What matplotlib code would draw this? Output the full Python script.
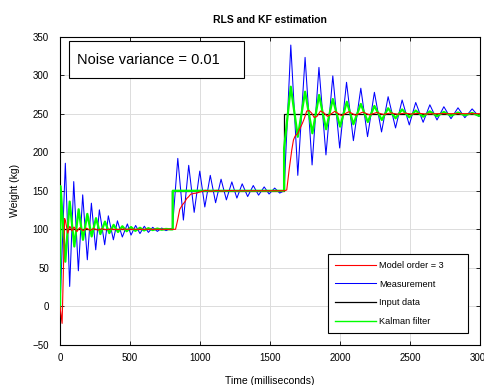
import matplotlib
matplotlib.use("Agg")
import matplotlib.pyplot as plt
from matplotlib.patches import Rectangle

plt.rcParams['font.family'] = ['Liberation Sans', 'DejaVu Sans']

# ---- data ----
input_t = [0, 800, 1600, 3000]
input_v = [100, 150, 250, 250]

meas_t = [0, 38, 69, 98, 131, 162, 195, 224, 255, 281, 319, 345, 381, 410, 445, 481, 507,
          540, 571, 602, 631, 662, 695, 726, 757, 788, 802,
          841, 881, 919, 958, 998, 1034, 1073, 1111, 1150, 1188, 1227, 1263, 1301, 1340,
          1380, 1418, 1458, 1493, 1533, 1569, 1600,
          1648, 1698, 1750, 1800, 1849, 1899, 1948, 1997, 2046, 2095, 2148, 2196, 2245,
          2296, 2343, 2396, 2443, 2494, 2540, 2593, 2641, 2692, 2741, 2792, 2842, 2891,
          2943, 2991, 3000]
meas_v = [0, 185.7, 25.9, 161.9, 46.2, 144.7, 60.5, 133.9, 73.4, 125.3, 80, 117.5, 86.4,
          111, 90, 107, 92.5, 105, 94.5, 104, 96, 102.6, 97.3, 101.7, 98.3, 101, 100,
          192, 112, 183, 122, 175.5, 129, 170, 134.5, 165, 138.2, 161.5, 140.5, 159, 142.5,
          156.8, 144.3, 155, 145.8, 153.5, 147, 150,
          339, 170, 323, 183.5, 310, 196.5, 299, 205.5, 290.7, 215, 283, 220.2, 277.7,
          226.3, 272, 231.5, 267.7, 235.4, 264.5, 238.8, 261.5, 241.8, 259, 243.5, 257.6,
          244.8, 256.2, 246.3, 247.5]

kf_t = [0, 4, 38, 69, 102, 133, 164, 195, 226, 257, 288, 321, 352, 383, 414, 445, 476,
        507, 538, 571, 600, 631, 662, 695, 726, 757, 790, 805, 805, 1600, 1600,
        1648, 1698, 1750, 1802, 1850, 1900, 1948, 2000, 2048, 2095, 2148, 2198, 2245,
        2298, 2343, 2396, 2443, 2494, 2540, 2593, 2641, 2692, 2741, 2792, 2842, 2891,
        2943, 2991, 3000]
kf_v = [-3, 156, 58, 136, 77.7, 126, 86.4, 120, 90.7, 114.5, 93.8, 110, 95.1, 105.8, 96.5,
        104, 97.5, 103, 98, 102, 98.5, 101.5, 99, 101, 99.5, 100.5, 100, 100, 150, 150, 205,
        285, 220, 278.5, 224.6, 274.2, 229.8, 269, 233.2, 265.5, 236.3, 262.6, 239.2, 260,
        241.8, 257, 244, 255.5, 245.3, 254, 246.1, 253, 246.8, 252.2, 247.4, 251.5, 247.9,
        251, 247.2, 248]

rls_t = [0, 15, 33, 40, 55, 70, 85, 100, 120, 140, 165, 190, 215, 240, 270, 300, 330, 360,
         400, 450, 500, 800, 825, 840, 855, 875, 893, 905, 917, 933, 955, 975, 1000, 1040,
         1080, 1120, 1160, 1200, 1250, 1600, 1619, 1636, 1655, 1667, 1679, 1698, 1714,
         1731, 1745, 1762, 1779, 1798, 1815, 1835, 1860, 1885, 1910, 1962, 2010, 2062,
         2110, 2162, 2210, 2262, 2310, 2362, 2410, 2462, 2510, 2560, 2610, 2700, 3000]
rls_v = [0, -22, 114, 110, 95, 104, 98, 103, 97, 102, 98, 101.5, 98.5, 101, 99, 100.7,
         99.4, 100.4, 99.7, 100.2, 100, 100, 100, 112, 126, 132, 136, 140, 142, 145.5,
         146.5, 147, 148.5, 150.5, 149.3, 150.5, 149.6, 150.3, 150, 150, 151, 177, 203, 216,
         221, 224.6, 231, 237.6, 244, 253.5, 254, 250.5, 245, 246.5, 253.5, 251, 246.5,
         253, 247.5, 252.5, 248, 252, 248.5, 251.5, 249, 251, 249.3, 250.7, 249.5, 250.5,
         249.6, 250, 250]

x_ticks = [0, 500, 1000, 1500, 2000, 2500, 3000]
y_ticks = [-50, 0, 50, 100, 150, 200, 250, 300, 350]

# ---- figure ----
fig = plt.figure(figsize=(4.84, 3.85), dpi=100)
ax = fig.add_axes([0.124, 0.104, 0.868, 0.801])

l_in, = ax.plot(input_t, input_v, color='black', lw=0.9, drawstyle='steps-post', zorder=2)
l_meas, = ax.plot(meas_t, meas_v, color='#0000ff', lw=0.75, zorder=3)
l_kf, = ax.plot(kf_t, kf_v, color='#00ff00', lw=1.6, zorder=4)
l_rls, = ax.plot(rls_t, rls_v, color='#ff0000', lw=0.8, zorder=5)

ax.set_xlim(0, 3000)
ax.set_ylim(-50, 350)
ax.set_xticks(x_ticks)
ax.set_yticks(y_ticks)
ax.tick_params(direction='in', length=3, width=0.6, top=True, right=True, labelsize=7)
ax.tick_params(axis='x', pad=6)
ax.tick_params(axis='y', pad=8)
ax.grid(True, color='#dcdcdc', lw=0.7)
ax.set_axisbelow(True)
for s in ax.spines.values():
    s.set_linewidth(0.8)

ax.set_title('RLS and KF estimation', fontsize=7.5, fontweight='bold', pad=10)
ax.set_xlabel('Time (milliseconds)', fontsize=7.5, labelpad=9)
ax.set_ylabel('Weight (kg)', fontsize=7.5, labelpad=9)

ax.add_patch(Rectangle((0.021, 0.865), 0.417, 0.12, transform=ax.transAxes,
                       fill=True, facecolor='white', edgecolor='black', lw=0.8, zorder=6))
ax.text(0.04, 0.925, 'Noise variance = 0.01', transform=ax.transAxes, fontsize=10.5,
        va='center', ha='left', zorder=7)

leg = ax.legend([l_rls, l_meas, l_in, l_kf],
                ['Model order = 3', 'Measurement', 'Input data', 'Kalman filter'],
                loc='lower left', bbox_to_anchor=(0.638, 0.038, 0.333, 0.25),
                mode='expand', fontsize=6.6,
                handlelength=4.4, labelspacing=1.05, fancybox=False, framealpha=1,
                edgecolor='black', borderpad=0.8, handletextpad=0.4, borderaxespad=0)
leg.get_frame().set_linewidth(0.8)
leg.set_zorder(8)
leg.legend_handles[3].set_linewidth(1.0)

fig.savefig('out.png', dpi=100)
